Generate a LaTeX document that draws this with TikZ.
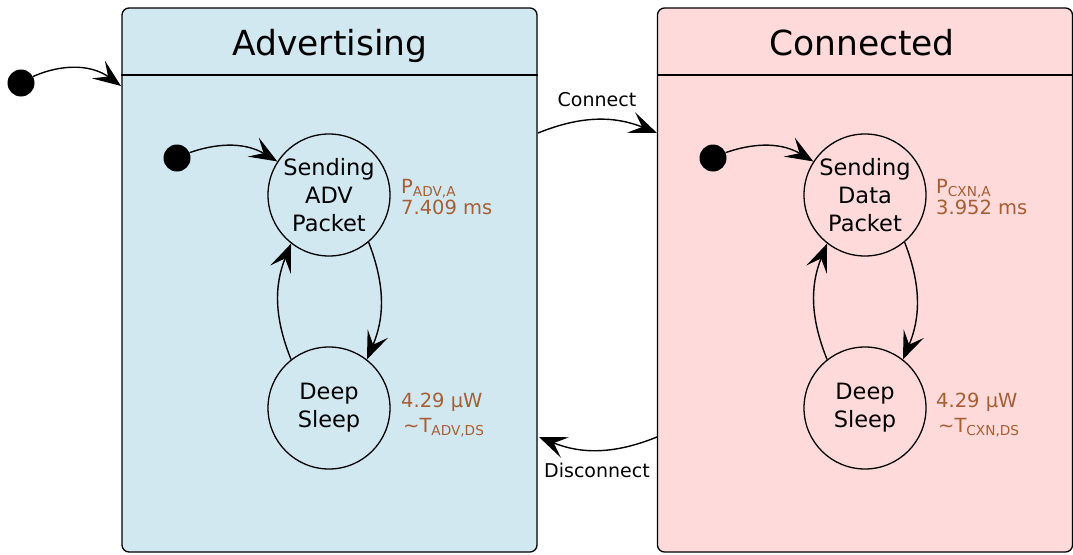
\documentclass[tikz,border=0pt]{standalone}
\usepackage{fontspec}
\setmainfont{DejaVu Sans}
\usetikzlibrary{arrows.meta,calc}
\definecolor{advfill}{RGB}{209,232,240}
\definecolor{cxnfill}{RGB}{255,218,218}
\definecolor{annot}{RGB}{166,94,52}
\tikzset{
  statebox/.style={draw=black,line width=1.3pt,rounded corners=7pt,minimum width=415pt,minimum height=544pt,inner sep=0pt},
  title/.style={anchor=base,inner sep=0pt,font=\fontsize{34.5}{40}\selectfont},
  substate/.style={draw=black,line width=1.3pt,circle,minimum size=122pt,inner sep=0pt,align=center,font=\fontsize{22.5}{28}\selectfont},
  initdot/.style={circle,fill=black,minimum size=27pt,inner sep=0pt},
  trans/.style={line width=1.4pt,arrows={-Stealth[length=28pt,width=22pt,inset=12pt]}},
  evlabel/.style={font=\fontsize{19}{22}\selectfont},
  annotation/.style={text=annot,anchor=base west,inner sep=0pt,font=\fontsize{19.5}{22}\selectfont}
}
\begin{document}
\begin{tikzpicture}[x=1pt,y=1pt]
\useasboundingbox (0,0) rectangle (1073,-554);
% boxes
\node[statebox,fill=advfill] (adv) at (329.5,-280) {};
\node[statebox,fill=cxnfill] (cxn) at (865,-280) {};
\draw[line width=1.3pt] (adv.west |- 0,-75) coordinate (advdl) -- (adv.east |- 0,-75) coordinate (advdr);
\draw[line width=1.3pt] (cxn.west |- 0,-75) coordinate (cxndl) -- (cxn.east |- 0,-75) coordinate (cxndr);
\node[title] (advt) at (330,-55.5) {Advertising};
\node[title] (cxnt) at (862,-55.5) {Connected};
% outer initial
\node[initdot] (init) at (21,-83) {};
\coordinate (advin) at (121,-86);
\draw[trans] (init) to[bend left=30] (advin);
% advertising substates
\node[substate] (send) at (329,-195) {Sending\\ADV\\Packet};
\node[substate] (sleep) at (329,-408) {Deep\\Sleep};
\node[initdot] (ainit) at (177,-158) {};
\draw[trans] (ainit) to[bend left=25] (send.147);
\draw[trans] (send.-50) to[bend left=22] (sleep.52);
\draw[trans] (sleep.128) to[bend left=22] (send.232);
\node[annotation] (pa) at (401,-193) {P\textsubscript{ADV,A}};
\node[annotation] (ta) at (401,-214.5) {7.409 ms};
\node[annotation] (pw) at (401,-407) {4.29 µW};
\node[annotation] (td) at (403,-432) {\textasciitilde T\textsubscript{ADV,DS}};
% connected substates
\node[substate] (csend) at (865,-195) {Sending\\Data\\Packet};
\node[substate] (csleep) at (865,-408) {Deep\\Sleep};
\node[initdot] (cinit) at (713,-158) {};
\draw[trans] (cinit) to[bend left=25] (csend.147);
\draw[trans] (csend.-50) to[bend left=22] (csleep.52);
\draw[trans] (csleep.128) to[bend left=22] (csend.232);
\node[annotation] (cpa) at (936,-193) {P\textsubscript{CXN,A}};
\node[annotation] (cta) at (936,-214.5) {3.952 ms};
\node[annotation] (cpw) at (936,-407) {4.29 µW};
\node[annotation] (ctd) at (938,-432) {\textasciitilde T\textsubscript{CXN,DS}};
% transitions between states
\coordinate (conA) at (538,-133);
\coordinate (conB) at (657,-133);
\draw[trans] (conA) to[bend left=22] (conB);
\node[evlabel] (conl) at (597,-100) {Connect};
\coordinate (disA) at (657,-437);
\coordinate (disB) at (539,-437);
\draw[trans] (disA) to[bend left=22] (disB);
\node[evlabel] (disl) at (597,-470) {Disconnect};
\end{tikzpicture}
\end{document}
